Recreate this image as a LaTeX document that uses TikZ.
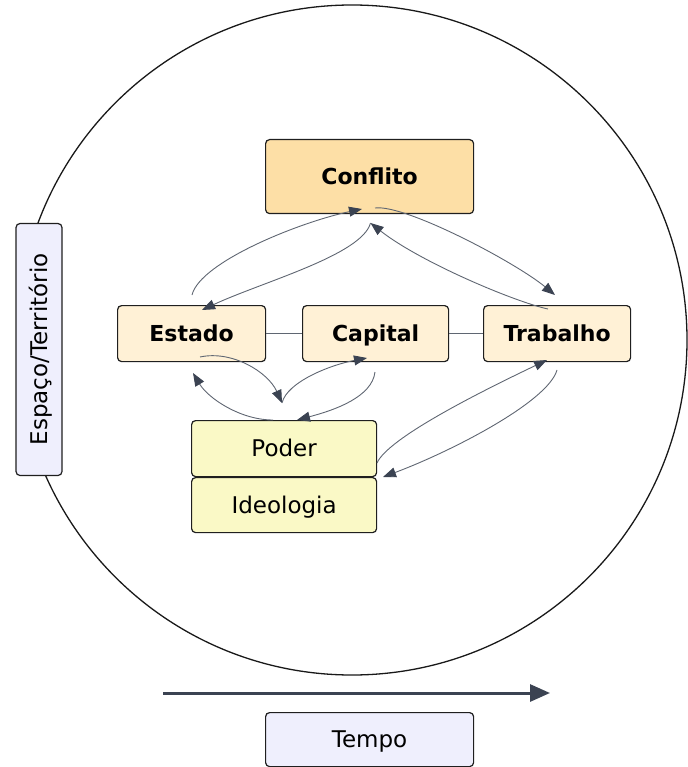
\documentclass[tikz,border=0pt]{standalone}
\usepackage{fontspec}
\setmainfont{DejaVu Sans}
\usetikzlibrary{arrows.meta}
\definecolor{conflitofill}{HTML}{FDDFA6}
\definecolor{mainfill}{HTML}{FFF1D6}
\definecolor{poderfill}{HTML}{FAF9C6}
\definecolor{lavfill}{HTML}{EFEFFD}
\definecolor{edgecol}{HTML}{5F6672}
\definecolor{tipcol}{HTML}{3B4352}
\begin{document}
\begin{tikzpicture}[x=1pt,y=-1pt,
  box/.style={draw=black!88, line width=1.2pt, rounded corners=4pt, inner sep=0pt, anchor=north west,
    font=\fontsize{23}{27}\selectfont, text height=21pt, text depth=5pt},
  boldbox/.style={box, font=\fontsize{22}{26}\selectfont\bfseries},
  link/.style={draw=edgecol, line width=0.9pt, -{Triangle[length=13pt,width=10pt,fill=tipcol,color=tipcol]}},
  plainlink/.style={draw=edgecol, line width=0.9pt}]
\useasboundingbox (0,0) rectangle (687,767);

% big circle
\draw[line width=1.3pt, draw=black!90] (352,340) circle[radius=335];

% nodes
\node[boldbox, fill=conflitofill, minimum width=208, minimum height=74] (conflito) at (265,139) {Conflito};
\node[boldbox, fill=mainfill, minimum width=148, minimum height=56] (estado) at (117,305) {Estado};
\node[boldbox, fill=mainfill, minimum width=146, minimum height=56] (capital) at (302,305) {Capital};
\node[boldbox, fill=mainfill, minimum width=147, minimum height=56] (trabalho) at (483,305) {Trabalho};
\node[box, fill=poderfill, minimum width=185, minimum height=56] (poder) at (191,420) {Poder};
\node[box, fill=poderfill, minimum width=185, minimum height=55] (ideologia) at (191,477) {Ideologia};
\node[box, anchor=center, fill=lavfill, minimum width=252, minimum height=46, rotate=90] (espaco) at (39,349.5) {Espaço/Território};
\node[box, fill=lavfill, minimum width=208, minimum height=54] (tempo) at (265,712) {Tempo};

% plain links
\draw[plainlink] (estado.east) -- (capital.west);
\draw[plainlink] (capital.east) -- (trabalho.west);

% edge end points
\coordinate (eC1) at (192,295);
\coordinate (cE0) at (362,209);
\coordinate (cV) at (370.5,223);
\coordinate (eT0) at (202,310);
\coordinate (cT1) at (375,208);
\coordinate (tT0) at (555,295);
\coordinate (tC1) at (548,309);
\coordinate (eP1) at (200,357);
\coordinate (pV) at (282,403);
\coordinate (pC0) at (367,358);
\coordinate (cP1) at (375,372);
\coordinate (pT0) at (297,420);
\coordinate (pE1) at (273,420);
\coordinate (eB0) at (193,373);
\coordinate (pR1) at (377,463);
\coordinate (tB0) at (547,360);
\coordinate (tB1) at (557,370);
\coordinate (iR0) at (383,477);

% curved links
\draw[link] (eC1) .. controls (200,262) and (300,222) .. (cE0);
\draw[link] (cV) .. controls (362,255) and (262,282) .. (eT0);
\draw[link] (cT1) .. controls (405,204) and (515,262) .. (tT0);
\draw[link] (tC1) .. controls (515,302) and (420,262) .. (cV);
\draw[link] (eP1) .. controls (232,350) and (268,372) .. (pV);
\draw[link] (pV) .. controls (287,382) and (330,365) .. (pC0);
\draw[link] (cP1) .. controls (372,397) and (335,410) .. (pT0);
\draw[link] (pE1) .. controls (240,420) and (208,398) .. (eB0);
\draw[link] (pR1) .. controls (388,438) and (480,392) .. (tB0);
\draw[link] (tB1) .. controls (548,402) and (450,452) .. (iR0);

% time arrow
\coordinate (tstart) at (163,693);
\coordinate (tend) at (550,693);
\draw[line width=3pt, draw=tipcol, -{Triangle[length=20pt,width=17pt,fill=tipcol,color=tipcol]}] (tstart) -- (tend);
\end{tikzpicture}
\end{document}
